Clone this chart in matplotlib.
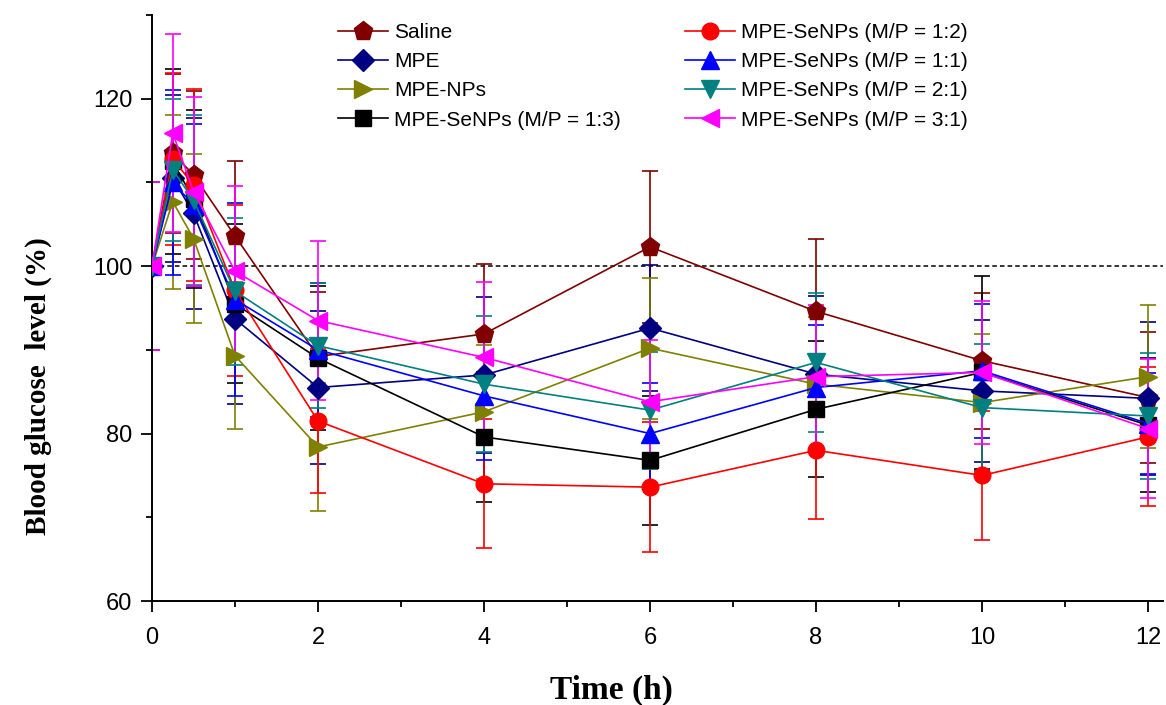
import numpy as np
import matplotlib
matplotlib.use("Agg")
import matplotlib.pyplot as plt
from matplotlib.lines import Line2D


# time points (h)
time_h = [0, 0.25, 0.5, 1, 2, 4, 6, 8, 10, 12]

# blood glucose level (%), mean and SD
saline = [100, 113.5, 110.9, 103.6, 89.2, 91.9, 102.3, 94.6, 88.7, 84.3]
saline_sd = [10, 9.5, 10.0, 9.0, 7.7, 8.3, 9.1, 8.6, 8.1, 7.8]

mpe = [100, 110.5, 106.3, 93.7, 85.5, 87.0, 92.6, 87.1, 85.1, 84.2]
mpe_sd = [10, 10.0, 11.4, 10.2, 9.1, 9.3, 7.5, 9.3, 8.5, 9.1]

mpe_nps = [100, 107.7, 103.3, 89.3, 78.4, 82.6, 90.2, 85.9, 83.7, 86.8]
mpe_nps_sd = [10, 10.4, 10.1, 8.8, 7.7, 8.0, 8.4, 8.0, 8.2, 8.5]

se_13 = [100, 112.5, 108.0, 95.5, 89.0, 79.6, 76.8, 82.9, 87.3, 81.0]
se_13_sd = [10, 11.1, 10.6, 9.5, 8.6, 7.8, 7.7, 8.1, 11.5, 8.0]

se_12 = [100, 112.8, 109.7, 97.1, 81.5, 74.0, 73.6, 78.0, 75.0, 79.6]
se_12_sd = [10, 10.3, 11.5, 10.2, 8.6, 7.7, 7.8, 8.2, 7.7, 8.3]

se_11 = [100, 110.0, 107.3, 96.0, 90.0, 84.5, 80.0, 85.5, 87.5, 81.2]
se_11_sd = [10, 11.0, 9.7, 11.5, 8.0, 7.7, 6.1, 7.5, 8.0, 6.0]

se_21 = [100, 111.5, 107.9, 97.0, 90.5, 85.9, 82.8, 88.5, 83.1, 82.1]
se_21_sd = [10, 8.5, 10.1, 8.8, 7.5, 8.1, 7.0, 8.3, 7.6, 7.5]

se_31 = [100, 115.9, 108.9, 99.4, 93.5, 89.1, 83.8, 86.8, 87.3, 80.6]
se_31_sd = [10, 11.8, 11.3, 10.2, 9.5, 9.0, 7.4, 8.6, 8.5, 8.3]

labels = [
    "Saline",
    "MPE",
    "MPE-NPs",
    "MPE-SeNPs (M/P = 1:3)",
    "MPE-SeNPs (M/P = 1:2)",
    "MPE-SeNPs (M/P = 1:1)",
    "MPE-SeNPs (M/P = 2:1)",
    "MPE-SeNPs (M/P = 3:1)",
]
means = [saline, mpe, mpe_nps, se_13, se_12, se_11, se_21, se_31]
sds = [saline_sd, mpe_sd, mpe_nps_sd, se_13_sd, se_12_sd, se_11_sd, se_21_sd, se_31_sd]
colors = ["#800000", "#000080", "#808000", "#000000", "#ff0000", "#0000ff", "#008080", "#ff00ff"]
markers = ["p", "D", ">", "s", "o", "^", "v", "<"]
msizes = [14, 11, 13, 11, 12, 13, 13, 13]

plt.rcParams.update({
    "font.family": ["Liberation Sans", "DejaVu Sans"],
    "font.size": 15,
})

fig = plt.figure(figsize=(11.66, 7.05), dpi=100)
ax = fig.add_axes([152 / 1166, 104 / 705, (1163 - 152) / 1166, (601 - 15) / 705])

ax.axhline(100, color="black", lw=1.1, ls=(0, (3, 2)), zorder=1)

handles = []
for m, s, c, mk, ms, lab in zip(means, sds, colors, markers, msizes, labels):
    ax.errorbar(time_h, m, yerr=s, fmt="none", ecolor=c, elinewidth=1.2,
                capsize=5.8, capthick=1.2, zorder=2)
    ax.plot(time_h, m, color=c, lw=1.2, marker=mk, markersize=ms,
            markerfacecolor=c, markeredgecolor=c, zorder=3)
    handles.append(Line2D([], [], color=c, lw=1.2, marker=mk, markersize=ms,
                          markerfacecolor=c, markeredgecolor=c, label=lab))

ax.set_xlim(0, 12.18)
ax.set_ylim(60, 130)
ax.set_xticks([0, 2, 4, 6, 8, 10, 12])
ax.set_xticks([1, 3, 5, 7, 9, 11], minor=True)
ax.set_yticks([60, 80, 100, 120])
ax.set_yticks([70, 90, 110, 130], minor=True)
ax.spines["top"].set_visible(False)
ax.spines["right"].set_visible(False)
ax.spines["left"].set_linewidth(1.4)
ax.spines["bottom"].set_linewidth(1.4)
ax.tick_params(which="major", direction="out", length=8, width=1.3, labelsize=17, pad=6)
ax.tick_params(axis="x", which="major", pad=11)
ax.tick_params(which="minor", direction="out", length=4.5, width=1.3)

leg_kw = dict(frameon=False, loc="upper left", borderpad=0, borderaxespad=0,
              handlelength=2.4, handletextpad=0.3, labelspacing=0.49, fontsize=15)
leg1 = fig.legend(handles=handles[:4], bbox_to_anchor=(338 / 1166, 1 - 23 / 705), **leg_kw)
leg2 = fig.legend(handles=handles[4:], bbox_to_anchor=(685 / 1166, 1 - 23 / 705), **leg_kw)

fig.text(38 / 1166, 1 - 386 / 705, "Blood glucose  level (%)", rotation=90,
         ha="center", va="center", fontsize=21, fontweight="bold",
         family=["Liberation Serif", "DejaVu Serif"])
fig.text(611 / 1166, 1 - 690 / 705, "Time (h)", ha="center", va="center",
         fontsize=24, fontweight="bold", family=["Liberation Serif", "DejaVu Serif"])

fig.savefig("out.png", dpi=100, facecolor="white")
